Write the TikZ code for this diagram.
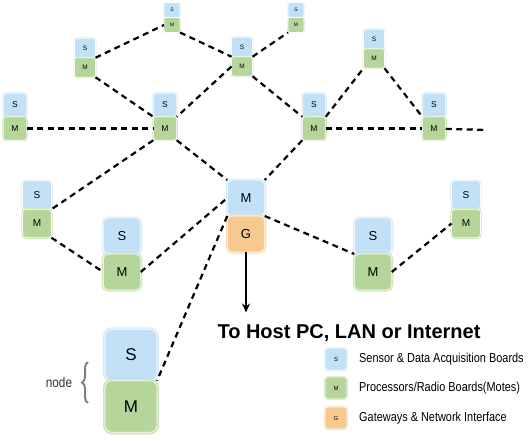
\documentclass[tikz,border=0pt]{standalone}
\usepackage{fontspec}
\setmainfont{Liberation Sans}
\usepackage{tikz}
\usetikzlibrary{positioning, arrows.meta, decorations.pathreplacing}

\definecolor{sensFill}{HTML}{C2E1F7}
\definecolor{sensEdge}{HTML}{D6EBFA}
\definecolor{moteFill}{HTML}{B5D59B}
\definecolor{moteEdge}{HTML}{CDE3BA}
\definecolor{gateFill}{HTML}{F8C98E}
\definecolor{gateEdge}{HTML}{FBDAB0}

\newcommand{\narrow}[1]{\scalebox{0.84}[1]{#1}}

\begin{document}
\begin{tikzpicture}[x=1pt, y=-1pt,
        band/.store in=\bandwidth, band=2pt,
        board/.style={rounded corners=3pt, inner sep=0pt, outer sep=0pt, draw=white, line width=0.6pt},
        sens/.style={board, fill=sensFill, preaction={draw=sensEdge, line width=\bandwidth}},
        mote/.style={board, fill=moteFill, preaction={draw=moteEdge, line width=\bandwidth}},
        gate/.style={board, fill=gateFill, preaction={draw=gateEdge, line width=\bandwidth}},
        tiny/.style={minimum width=16pt, minimum height=15pt, rounded corners=2pt, band=1.2pt, font=\fontsize{5}{6}\selectfont},
        small/.style={minimum width=21pt, minimum height=19.5pt, rounded corners=2.5pt, band=1.6pt, font=\fontsize{6.5}{8}\selectfont},
        mid/.style={minimum width=23.5pt, minimum height=23.5pt, rounded corners=3pt, band=2pt, font=\fontsize{8.5}{10}\selectfont},
        large/.style={minimum width=29pt, minimum height=28.5pt, rounded corners=3.5pt, band=2.4pt, font=\fontsize{10}{12}\selectfont},
        big/.style={minimum width=37.5pt, minimum height=36pt, rounded corners=5pt, band=3pt, font=\fontsize{13}{15}\selectfont},
        huge/.style={minimum width=52pt, minimum height=51.5pt, rounded corners=7pt, band=4pt, font=\fontsize{17}{20}\selectfont},
        key/.style={minimum width=22pt, minimum height=22pt, rounded corners=3pt, band=1.6pt, font=\fontsize{6}{7}\selectfont},
        keytext/.style={font=\fontsize{13}{15}\selectfont, inner sep=0pt},
        link/.style={draw, line width=2.2pt, dash pattern=on 6pt off 4.5pt}
    ]
        \useasboundingbox (0,0) rectangle (530,441);

        % motes, S on top of M
        \node[sens, small] (S1) at (85,48) {S};
        \node[mote, small, below=0pt of S1] (M1) {M};
        \node[sens, tiny] (S2) at (172,10) {S};
        \node[mote, tiny, below=0pt of S2] (M2) {M};
        \node[sens, small] (S3) at (242,47) {S};
        \node[mote, small, below=0pt of S3] (M3) {M};
        \node[sens, tiny] (S4) at (296,10) {S};
        \node[mote, tiny, below=0pt of S4] (M4) {M};
        \node[sens, small] (S5) at (374,39) {S};
        \node[mote, small, below=0pt of S5] (M5) {M};
        \node[sens, mid] (S6) at (15,105) {S};
        \node[mote, mid, below=0pt of S6] (M6) {M};
        \node[sens, mid] (S7) at (165,105) {S};
        \node[mote, mid, below=0pt of S7] (M7) {M};
        \node[sens, mid] (S8) at (314,105) {S};
        \node[mote, mid, below=0pt of S8] (M8) {M};
        \node[sens, mid] (S9) at (434,105) {S};
        \node[mote, mid, below=0pt of S9] (M9) {M};
        \node[sens, large] (S10) at (37,195) {S};
        \node[mote, large, below=0pt of S10] (M10) {M};
        \node[sens, big] (S11) at (122,236) {S};
        \node[mote, big, below=0pt of S11] (M11) {M};
        \node[sens, big] (S13) at (373,236) {S};
        \node[mote, big, below=0pt of S13] (M13) {M};
        \node[sens, large] (S14) at (466,195) {S};
        \node[mote, large, below=0pt of S14] (M14) {M};
        \node[sens, huge] (S15) at (131,355) {S};
        \node[mote, huge, below=0pt of S15] (M15) {M};

        % gateway
        \node[sens, big] (GwM) at (246,198) {M};
        \node[gate, big, below=0pt of GwM] (GwG) {G};

        \coordinate (lineEnd) at (487,130);

        \path (M1.north east) edge[link] (M2.west)
              (M1.south east) edge[link] (M7.north west)
              (M2.south east) edge[link] (M3.north west)
              (M3.west) edge[link] (M7.north east)
              (M3.north east) edge[link] (M4.south west)
              (M3.south east) edge[link] (M8.north west)
              (M8.north east) edge[link] (M5.south west)
              (M5.south east) edge[link] (M9.north west)
              (M8) edge[link] (M9)
              (M9) edge[link] (lineEnd)
              (M6) edge[link] (M7)
              (M7.south west) edge[link] (M10.north east)
              (M7.south east) edge[link] (GwM.north west)
              (M8.south west) edge[link] (GwM.north east)
              (M10.south east) edge[link] (M11.west)
              (M11.east) edge[link] (GwM.west)
              (GwM.south east) edge[link] (M13.north west)
              (M13.east) edge[link] (M14.west)
              (GwM.south west) edge[link] (M15.north east);

        \node[font=\bfseries\fontsize{20}{24}\selectfont, anchor=base] (host) at (349,338) {To Host PC, LAN or Internet};
        \draw[-{Stealth[length=9pt, width=8pt]}, line width=1.6pt, shorten >=8pt] (GwG) -- (GwG |- host.north);

        % node label
        \node[font=\fontsize{14}{16}\selectfont, text=black!80] (nodeLabel) at (59,382) {\narrow{node}};
        \coordinate (braceLow) at (88,403);
        \coordinate (braceHigh) at (88,362);
        \draw[gray, line width=2pt, decorate, decoration={brace, amplitude=6pt}] (braceLow) -- (braceHigh);

        % legend
        \node[sens, key] (keyS) at (336,359) {S};
        \node[mote, key] (keyM) at (336,388) {M};
        \node[gate, key] (keyG) at (336,418) {G};
        \node[keytext, right=12pt of keyS] (keySText) {\narrow{Sensor \& Data Acquisition Boards}};
        \node[keytext, right=12pt of keyM] (keyMText) {\narrow{Processors/Radio Boards(Motes)}};
        \node[keytext, right=12pt of keyG] (keyGText) {\narrow{Gateways \& Network Interface}};
\end{tikzpicture}
\end{document}
